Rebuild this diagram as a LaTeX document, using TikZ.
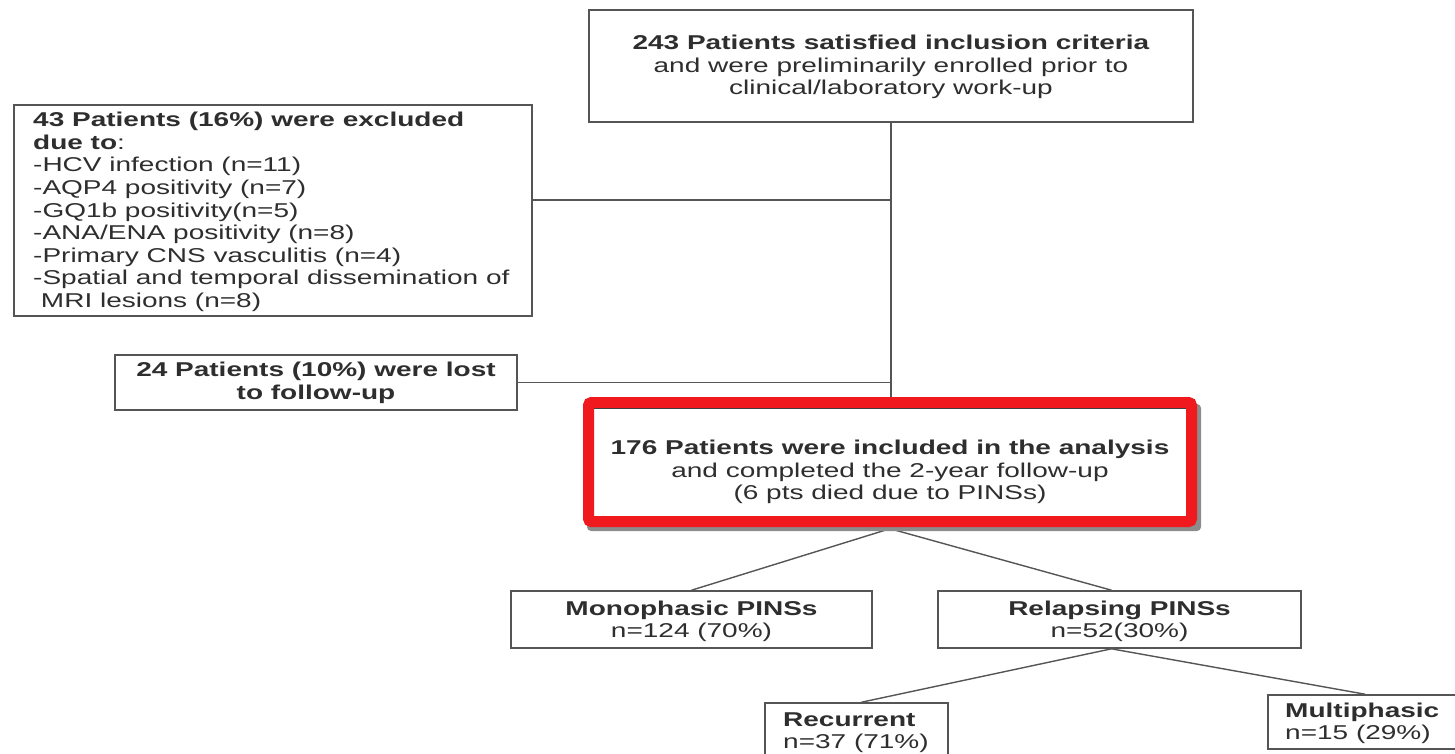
\documentclass[tikz,border=0pt]{standalone}
\usepackage{fontspec}
\setmainfont{Liberation Sans}[FakeStretch=1.4]
\definecolor{txt}{HTML}{2E2E2E}
\definecolor{ln}{HTML}{555555}
\definecolor{hl}{HTML}{F01A1E}
\pgfdeclarelayer{bg}
\pgfdeclarelayer{mid}
\pgfsetlayers{bg,mid,main}
\begin{document}
\begin{tikzpicture}[x=1pt,y=-1pt,
  box/.style={draw=ln,line width=1.6pt,fill=white,inner sep=0pt},
  tx/.style={inner sep=0pt,text=txt,font=\fontsize{20}{22.6}\selectfont},
  conn/.style={draw=ln,line width=1.4pt}]
\useasboundingbox (0,0) rectangle (1455,753);
% boxes
\node[box,minimum width=604,minimum height=112] (top) at (891,66) {};
\node[box,minimum width=518,minimum height=211] (excl) at (273,210.5) {};
\node[box,minimum width=402,minimum height=55] (lost) at (316,382.5) {};
\node[minimum width=600,minimum height=113,inner sep=0pt] (incl) at (890,465) {};
\node[box,minimum width=361,minimum height=57] (mono) at (691.5,619.5) {};
\node[box,minimum width=363,minimum height=57] (relap) at (1119.5,619.5) {};
\node[box,minimum width=183,minimum height=70] (recur) at (856.5,738) {};
\node[box,minimum width=194,minimum height=54] (multi) at (1365,722) {};
% texts
\node[tx,align=center] (topT) at (891,67)
  {\textbf{243 Patients satisfied inclusion criteria}\\and were preliminarily enrolled prior to\\clinical/laboratory work-up};
\node[tx,align=left,anchor=west] (exclT) at (33,212)
  {\textbf{43 Patients (16\%) were excluded}\\\textbf{due to}:\\-HCV infection (n=11)\\-AQP4 positivity (n=7)\\-GQ1b positivity(n=5)\\-ANA/ENA positivity (n=8)\\-Primary CNS vasculitis (n=4)\\-Spatial and temporal dissemination of\\\ MRI lesions (n=8)};
\node[tx,align=center] (lostT) at (316,383)
  {\textbf{24 Patients (10\%) were lost}\\\textbf{to follow-up}};
\node[tx,align=center] (inclT) at (890,472)
  {\textbf{176 Patients were included in the analysis}\\and completed the 2-year follow-up\\(6 pts died due to PINSs)};
\node[tx,align=center] (monoT) at (691.5,621.5)
  {\textbf{Monophasic PINSs}\\n=124 (70\%)};
\node[tx,align=center] (relapT) at (1119.5,621.5)
  {\textbf{Relapsing PINSs}\\n=52(30\%)};
\node[tx,align=left,anchor=west] (recurT) at (783,732.5)
  {\textbf{Recurrent}\\n=37 (71\%)};
\node[tx,align=left,anchor=west] (multiT) at (1285,723.5)
  {\textbf{Multiphasic}\\n=15 (29\%)};
% connectors
\begin{pgfonlayer}{bg}
\coordinate (j1) at (891,200);
\draw[conn] (top.south) -- (top.south |- incl.north);
\draw[conn] (j1 -| excl.east) -- (j1);
\draw[conn] (lost.east) -- (lost.east -| top.south);
\draw[conn] ([yshift=-7]incl.south) -- (mono.north);
\draw[conn] ([yshift=-7]incl.south) -- ([xshift=-8]relap.north);
\draw[conn] ([xshift=-8]relap.south) -- ([xshift=5]recur.north);
\draw[conn] ([xshift=-8]relap.south) -- (multi.north);
\end{pgfonlayer}
% highlight
\begin{pgfonlayer}{mid}
\fill[black!45,rounded corners=4] (587,404) rectangle (1201,531);
\fill[white] (588.5,402.5) rectangle (1191.5,521.5);
\draw[hl,line width=11,rounded corners=3] (588.5,402.5) rectangle (1191.5,521.5);
\draw[black!75,line width=1.2] (594,408.5) -- (1186,408.5);
\end{pgfonlayer}
\end{tikzpicture}
\end{document}
